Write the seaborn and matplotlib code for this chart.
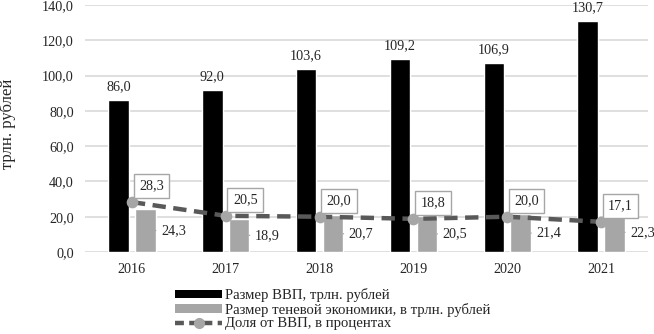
import numpy as np
import pandas as pd
import matplotlib
matplotlib.use("Agg")
import matplotlib.pyplot as plt
import seaborn as sns
from matplotlib.patches import Patch
from matplotlib.lines import Line2D

years = ["2016", "2017", "2018", "2019", "2020", "2021"]
gdp = [86.0, 92.0, 103.6, 109.2, 106.9, 130.7]
shadow = [24.3, 18.9, 20.7, 20.5, 21.4, 22.3]
share = [28.3, 20.5, 20.0, 18.8, 20.0, 17.1]
series_names = ["Размер ВВП, трлн. рублей",
                "Размер теневой экономики, в трлн. рублей",
                "Доля от ВВП, в процентах"]
yticks = [0, 20, 40, 60, 80, 100, 120, 140]

def fmt(v):
    return f"{v:.1f}".replace(".", ",")

sns.set_theme(style="white")
plt.rcParams["font.family"] = ["Liberation Serif", "DejaVu Serif"]
FS = 10.2

df = pd.DataFrame({
    "year": years * 2,
    "value": gdp + shadow,
    "series": [series_names[0]] * len(years) + [series_names[1]] * len(years),
})

fig = plt.figure(figsize=(6.54, 3.34), dpi=100)
ax = fig.add_axes([85/654, 1 - 252/334, (648-85)/654, (252-5)/334])

sns.barplot(data=df, x="year", y="value", hue="series", order=years,
            hue_order=series_names[:2], palette=["#000000", "#a6a6a6"],
            width=0.574, gap=0.24, saturation=1, legend=False, ax=ax, zorder=2)

LW = 3.2
sns.pointplot(x=years, y=share, order=years, color="#595959",
              markers="o", linestyles="--", ax=ax, zorder=4,
              markersize=6, linewidth=LW)
for ln in ax.lines:
    ln.set_markerfacecolor("#a6a6a6")
    ln.set_markeredgecolor("#a6a6a6")
    ln.set_dashes([3.0, 1.7])

ax.set_ylim(0, 140)
ax.set_xlim(-0.5, len(years) - 0.5)
ax.set_yticks(yticks)
ax.set_yticklabels([fmt(v) for v in yticks], fontsize=FS)
ax.tick_params(axis="y", length=0, pad=8)
ax.tick_params(axis="x", length=0, pad=8, labelsize=FS)
ax.yaxis.grid(True, color="#d9d9d9", linewidth=1.2, zorder=0)
ax.set_axisbelow(True)
for s in ax.spines.values():
    s.set_visible(False)
ax.set_xlabel("")
ax.set_ylabel("трлн. рублей", fontsize=12)
ax.yaxis.set_label_coords((16 - 85) / 563, 0.52)

# labels
bars_gdp = ax.containers[0]
bars_sh = ax.containers[1]
ax.bar_label(bars_gdp, labels=[fmt(v) for v in gdp], padding=5, fontsize=FS)
for rect, v in zip(bars_sh, shadow):
    xr = rect.get_x() + rect.get_width()
    ym = rect.get_height() / 2
    ax.annotate(fmt(v), xy=(xr, ym), xytext=(4, 0), textcoords="offset points",
                ha="left", va="center", fontsize=FS,
                arrowprops=dict(arrowstyle="-", color="#a6a6a6", lw=1,
                                shrinkA=1.5, shrinkB=1))
for i, v in enumerate(share):
    ax.annotate(fmt(v), xy=(i, v), xytext=(14, 11.5), textcoords="offset points",
                ha="center", va="center", fontsize=FS, zorder=5,
                bbox=dict(boxstyle="square,pad=0.38", fc="white", ec="#a6a6a6", lw=1))

handles = [
    Patch(facecolor="#000000", edgecolor="none"),
    Patch(facecolor="#a6a6a6", edgecolor="none"),
    Line2D([0], [0], color="#595959", lw=LW, dashes=[2.0, 1.2], marker="o",
           markersize=7, markerfacecolor="#a6a6a6", markeredgecolor="#a6a6a6"),
]
fig.legend(handles, series_names, loc="upper left",
           bbox_to_anchor=(175/654, 1 - 288/334), frameon=False, fontsize=10.6,
           borderpad=0, borderaxespad=0, labelspacing=0.05, handlelength=3.2,
           handleheight=0.5, handletextpad=0.2)

fig.savefig("out.png", dpi=100)
